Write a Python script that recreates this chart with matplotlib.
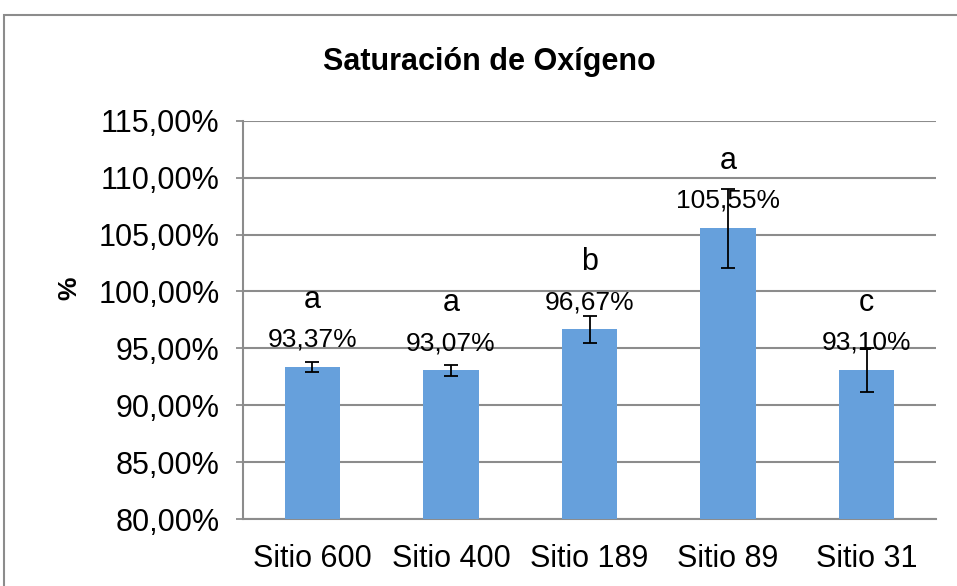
import numpy as np
import matplotlib
matplotlib.use("Agg")
import matplotlib.pyplot as plt
from matplotlib.patches import Rectangle

# data
sitios = ["Sitio 600", "Sitio 400", "Sitio 189", "Sitio 89", "Sitio 31"]
saturacion = [93.37, 93.07, 96.67, 105.55, 93.10]
error = [0.47, 0.46, 1.2, 3.45, 1.9]
letras = ["a", "a", "b", "a", "c"]
yticks = [80, 85, 90, 95, 100, 105, 110, 115]

plt.rcParams["font.family"] = ["Liberation Sans", "DejaVu Sans"]

fig = plt.figure(figsize=(9.57, 5.86), dpi=100)
ax = fig.add_axes([0.254, 0.114, 0.724, 0.68])

x = np.arange(len(sitios))
ax.bar(x, saturacion, width=0.4, color="#66a0dc", zorder=3)
ax.errorbar(x, saturacion, yerr=error, fmt="none", ecolor="black",
            elinewidth=1.3, capsize=5, capthick=1.3, zorder=4)

# value labels and significance letters
for xi, v, l in zip(x, saturacion, letras):
    txt = f"{v:.2f}%".replace(".", ",")
    ax.text(xi, v + 2.4, txt, ha="center", va="center", fontsize=19, zorder=5)
    ax.text(xi, v + 5.9, l, ha="center", va="center", fontsize=22, zorder=5)

ax.set_ylim(80, 115)
ax.set_xlim(-0.5, len(sitios) - 0.5)
ax.set_yticks(yticks)
ax.set_yticklabels([f"{t:.2f}%".replace(".", ",") for t in yticks], fontsize=22)
ax.set_xticks(x)
ax.set_xticklabels(sitios, fontsize=22)
ax.tick_params(axis="x", length=0, pad=18)
ax.tick_params(axis="y", length=5, color="#8c8c8c", width=1.3, pad=12)

ax.yaxis.grid(True, color="#8c8c8c", linewidth=1.5, zorder=0)
ax.set_axisbelow(True)
for s in ["top", "right"]:
    ax.spines[s].set_visible(False)
for s in ["left", "bottom"]:
    ax.spines[s].set_color("#8c8c8c")
    ax.spines[s].set_linewidth(1.5)

ax.set_ylabel("%", fontsize=19, fontweight="bold")
ax.yaxis.set_label_coords(-0.233, 0.58)

fig.text(0.511, 0.894, "Saturación de Oxígeno", ha="center", va="center",
         fontsize=22, fontweight="bold")

# outer chart border (cut off on the right and bottom)
fig.patches.append(Rectangle((4 / 957, -0.1), 1.2, 1.1 - 15 / 586,
                             transform=fig.transFigure, fill=False,
                             edgecolor="#8c8c8c", linewidth=1.5))

fig.savefig("out.png", dpi=100)
